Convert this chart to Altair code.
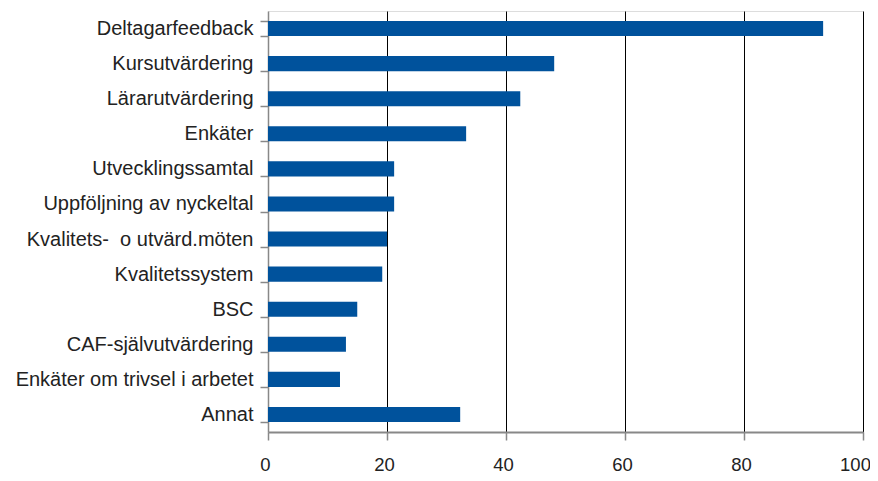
import altair as alt
import pandas as pd

categories = [
    "Deltagarfeedback",
    "Kursutvärdering",
    "Lärarutvärdering",
    "Enkäter",
    "Utvecklingssamtal",
    "Uppföljning av nyckeltal",
    "Kvalitets-\u00a0 o utvärd.möten",
    "Kvalitetssystem",
    "BSC",
    "CAF-självutvärdering",
    "Enkäter om trivsel i arbetet",
    "Annat",
]
values = [93.3, 48.1, 42.4, 33.3, 21.2, 21.2, 20.0, 19.2, 15.0, 13.1, 12.1, 32.3]
x_ticks = [0, 20, 40, 60, 80, 100]

df = pd.DataFrame({"cat": categories, "val": values})

chart = alt.Chart(df).mark_bar(color="#00529C").encode(
    x=alt.X(
        "val:Q",
        scale=alt.Scale(domain=[0, 100], nice=False),
        axis=alt.Axis(
            values=x_ticks,
            title=None,
            grid=True,
            gridColor={"condition": {"test": "datum.value === 0", "value": "transparent"}, "value": "#000000"},
            gridWidth=1,
            domainColor="#888888",
            domainWidth=2,
            tickColor="#888888",
            tickWidth=1.5,
            tickSize=8,
            labelFont="Liberation Sans",
            labelFontSize=18.5,
            labelColor="#222222",
            labelPadding=15,
            labelBaseline="top",
            labelOffset={"condition": {"test": "datum.value === 100", "value": -8}, "value": -3},
            labelFlush=False,
        ),
    ),
    y=alt.Y(
        "cat:N",
        sort=categories,
        scale=alt.Scale(paddingInner=0.57, paddingOuter=0.285),
        axis=alt.Axis(
            title=None,
            domainColor="#888888",
            domainWidth=1.5,
            tickColor="#888888",
            tickWidth=1.5,
            tickSize=8,
            tickBand="extent",
            labelFont="Liberation Sans",
            labelFontSize=20,
            labelColor="#222222",
            labelPadding=7,
            labelLimit=400,
        ),
    ),
).properties(
    width=595,
    height=421,
    autosize=alt.AutoSizeParams(type="none"),
    padding={"left": 260, "top": 3, "right": 7, "bottom": 41},
).configure_view(stroke=None).configure(background="white")

chart.save("out.html", embed_options={"renderer": "svg", "actions": False})
